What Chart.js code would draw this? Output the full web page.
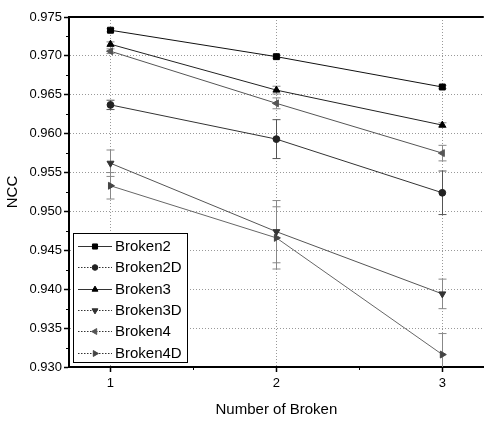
<!DOCTYPE html>
<html><head><meta charset="utf-8">
<script src="https://cdn.jsdelivr.net/npm/chart.js@4/dist/chart.umd.min.js"></script>
<style>html,body{margin:0;padding:0;background:#fff}#wrap{width:489px;height:423px}</style>
</head><body><div id="wrap"><canvas id="c" width="489" height="423"></canvas></div>
<script>
const categories = [1, 2, 3];
const seriesNames = ["Broken2", "Broken2D", "Broken3", "Broken3D", "Broken4", "Broken4D"];
const broken2   = [0.9733, 0.9699, 0.9660];
const broken2D  = [0.9637, 0.9593, 0.9524];
const broken3   = [0.9715, 0.9656, 0.9611];
const broken3D  = [0.9562, 0.9474, 0.9394];
const broken4   = [0.9706, 0.9639, 0.9575];
const broken4D  = [0.9533, 0.9466, 0.9316];
const err2   = [0.0002, 0.0002, 0.0002];
const err2D  = [0.0006, 0.0025, 0.0028];
const err3   = [0.0003, 0.0005, 0.0003];
const err3D  = [0.0017, 0.0040, 0.0019];
const err4   = [0.0003, 0.0007, 0.0010];
const err4D  = [0.0017, 0.0040, 0.0027];
const yTicks = [0.930, 0.935, 0.940, 0.945, 0.950, 0.955, 0.960, 0.965, 0.970, 0.975];

const values = [broken2, broken2D, broken3, broken3D, broken4, broken4D];
const errors = [err2, err2D, err3, err3D, err4, err4D];
const styles = [
  {shape:'rect', rot:0, color:'#000', line:'#111', r:4.2},
  {shape:'circle', rot:0, color:'#222', line:'#333', r:3.4},
  {shape:'triangle', rot:0, color:'#000', line:'#222', r:4},
  {shape:'triangle', rot:180, color:'#333', line:'#555', r:4},
  {shape:'triangle', rot:-90, color:'#555', line:'#555', r:4},
  {shape:'triangle', rot:90, color:'#444', line:'#666', r:4}
];
const legendDash = [[], [1.5,1.5], [], [1.5,1.5], [1.5,1.5], [1.5,1.5]];

const datasets = seriesNames.map((n, i) => ({
  label: n,
  data: categories.map((x, j) => ({x: x, y: values[i][j]})),
  errs: errors[i],
  borderColor: styles[i].line,
  backgroundColor: styles[i].color,
  pointBorderColor: styles[i].color,
  pointBackgroundColor: styles[i].color,
  borderWidth: 1,
  pointStyle: styles[i].shape,
  pointRotation: styles[i].rot,
  pointRadius: styles[i].r,
  pointBorderWidth: 1,
  tension: 0
}));

const FONT = 'Liberation Sans, Arial, sans-serif';

const extras = {
  id: 'extras',
  beforeDatasetsDraw(chart) {
    const ctx = chart.ctx, xs = chart.scales.x, ys = chart.scales.y;
    ctx.save();
    chart.data.datasets.forEach((ds, i) => {
      ctx.strokeStyle = i === 1 ? '#555' : '#888';
      ctx.lineWidth = 1;
      ds.data.forEach((p, j) => {
        const e = ds.errs[j];
        const px = Math.round(xs.getPixelForValue(p.x)) + 0.5;
        const top = ys.getPixelForValue(p.y + e);
        const rawBot = ys.getPixelForValue(p.y - e);
        const bot = Math.min(rawBot, chart.chartArea.bottom);
        ctx.beginPath();
        ctx.moveTo(px, top); ctx.lineTo(px, bot);
        ctx.moveTo(px - 4, top); ctx.lineTo(px + 4, top);
        if (rawBot <= chart.chartArea.bottom) { ctx.moveTo(px - 4, bot); ctx.lineTo(px + 4, bot); }
        ctx.stroke();
      });
    });
    ctx.restore();
  },
  afterDraw(chart) {
    const ctx = chart.ctx, a = chart.chartArea, xs = chart.scales.x, ys = chart.scales.y;
    ctx.save();
    ctx.strokeStyle = '#000';
    ctx.lineWidth = 2;
    ctx.beginPath();
    ctx.moveTo(a.left, a.top); ctx.lineTo(a.right, a.top);
    ctx.stroke();
    // minor ticks
    ctx.lineWidth = 1;
    ctx.beginPath();
    for (let k = 0; k < yTicks.length - 1; k++) {
      const v = (yTicks[k] + yTicks[k + 1]) / 2;
      const py = Math.round(ys.getPixelForValue(v)) + 0.5;
      ctx.moveTo(a.left - 3, py); ctx.lineTo(a.left, py);
    }
    for (let k = 0; k < categories.length - 1; k++) {
      const v = (categories[k] + categories[k + 1]) / 2;
      const px = Math.round(xs.getPixelForValue(v)) + 0.5;
      ctx.moveTo(px, a.bottom); ctx.lineTo(px, a.bottom + 3);
    }
    ctx.stroke();
    // legend
    const lx = 73, ly = 233, lw = 114, lh = 129, rowH = 21.3;
    ctx.fillStyle = '#fff';
    ctx.fillRect(lx, ly, lw, lh);
    ctx.strokeStyle = '#000';
    ctx.lineWidth = 1;
    ctx.strokeRect(lx + 0.5, ly + 0.5, lw, lh);
    ctx.font = '15px ' + FONT;
    ctx.textBaseline = 'middle';
    chart.data.datasets.forEach((ds, i) => {
      const cy = ly + 13 + i * rowH;
      ctx.strokeStyle = '#333';
      ctx.lineWidth = 1;
      ctx.setLineDash(legendDash[i]);
      ctx.beginPath();
      ctx.moveTo(lx + 5, Math.round(cy) + 0.5); ctx.lineTo(lx + 39, Math.round(cy) + 0.5);
      ctx.stroke();
      ctx.setLineDash([]);
      ctx.fillStyle = ds.pointBackgroundColor;
      ctx.strokeStyle = ds.pointBorderColor;
      Chart.helpers.drawPoint(ctx, {pointStyle: ds.pointStyle, rotation: ds.pointRotation, radius: ds.pointRadius - 0.6, borderWidth: 1}, lx + 22, Math.round(cy) + 0.5);
      ctx.fillStyle = '#000';
      ctx.fillText(ds.label, lx + 42, cy + 1);
    });
    ctx.restore();
  }
};

new Chart(document.getElementById('c'), {
  type: 'line',
  data: { datasets: datasets },
  plugins: [extras],
  options: {
    responsive: false,
    animation: false,
    events: [],
    layout: { padding: { top: 17, right: 0, left: 0, bottom: 0 } },
    plugins: { legend: { display: false }, tooltip: { enabled: false } },
    scales: {
      x: {
        type: 'linear',
        min: 0.75, max: 3.25,
        afterBuildTicks(s) { s.ticks = categories.map(v => ({value: v})); },
        afterFit(s) { s.height = 56; },
        border: { display: true, color: '#000', width: 2, dash: [1, 2] },
        grid: { color: '#999', lineWidth: 1, drawTicks: true, tickLength: 5, tickColor: '#000', tickBorderDash: [], tickWidth: 1.5 },
        ticks: { color: '#000', font: { family: FONT, size: 13 }, padding: 4, callback: v => String(v) },
        title: { display: true, text: 'Number of Broken', color: '#000', font: { family: FONT, size: 15 }, padding: { top: 6 } }
      },
      y: {
        min: 0.930, max: 0.975,
        afterBuildTicks(s) { s.ticks = yTicks.map(v => ({value: v})); },
        afterFit(s) { s.width = 69; },
        border: { display: true, color: '#000', width: 2, dash: [1, 2] },
        grid: { color: '#999', lineWidth: 1, drawTicks: true, tickLength: 5, tickColor: '#000', tickBorderDash: [], tickWidth: 1.5 },
        ticks: { color: '#000', font: { family: FONT, size: 13 }, padding: 2, callback: v => v.toFixed(3) },
        title: { display: true, text: 'NCC', color: '#000', font: { family: FONT, size: 15 }, padding: { bottom: 0 } }
      }
    }
  }
});
</script>
</body></html>
